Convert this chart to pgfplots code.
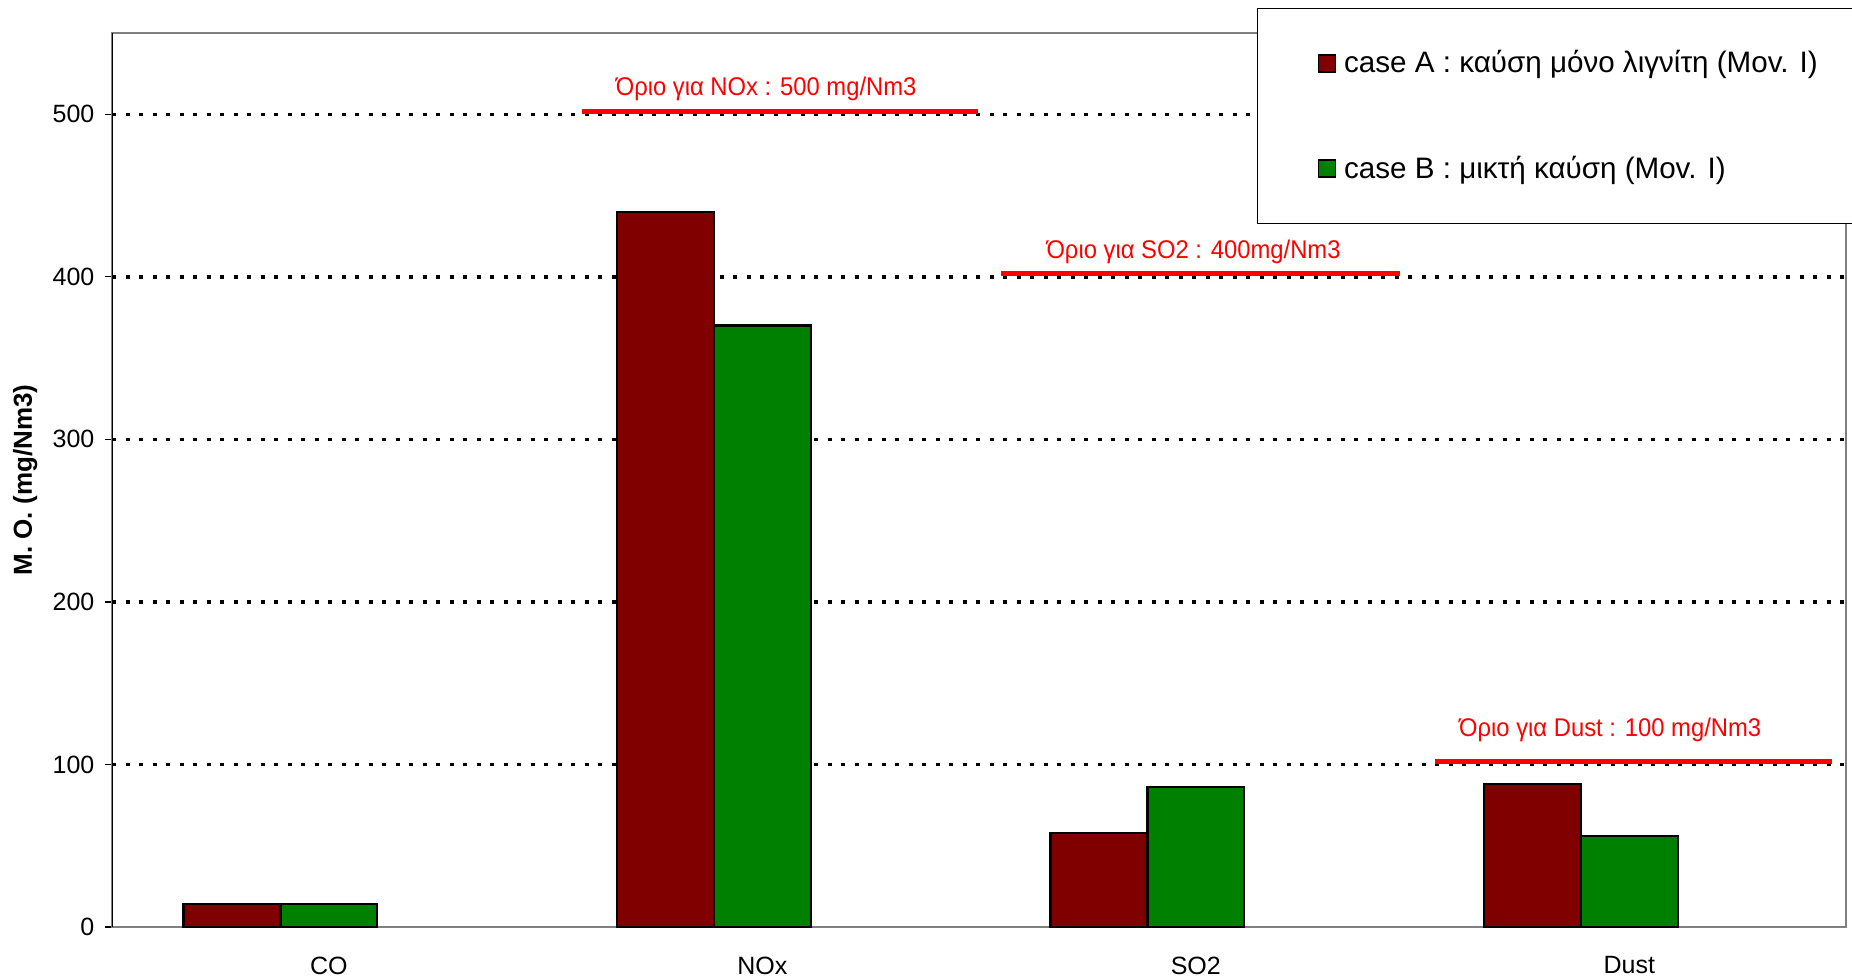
\documentclass[border=0pt]{standalone}
\usepackage{fontspec}
\setmainfont{Liberation Sans}
\usepackage{pgfplots}
\pgfplotsset{compat=1.18}

\definecolor{caseA}{HTML}{800000}
\definecolor{caseB}{HTML}{008000}
\definecolor{frame}{HTML}{808080}

\newcommand{\limitlabel}[1]{\scalebox{0.93}[1]{#1}}

\begin{document}
\begin{tikzpicture}
\begin{axis}[
  at={(0,0)}, anchor=south west,
  scale only axis,
  width=867pt, height=447pt,
  xmin=-0.5, xmax=3.5,
  ymin=0, ymax=550,
  ybar, bar width=0.2235,
  xtick={0,1,2,3},
  xticklabels={CO,NOx,SO2,Dust},
  major x tick style={draw=none},
  extra x ticks={-0.5,0.5,1.5,2.5,3.5},
  extra x tick labels={},
  extra x tick style={major tick length=3.5pt, tick style={black, line width=0.6pt}},
  ytick={0,100,...,500},
  extra y ticks={100,200,300,400,500},
  extra y tick labels={},
  extra y tick style={grid=major, major tick length=0pt},
  major grid style={black, line width=1.7pt, dash pattern=on 2pt off 4.75pt},
  tick align=outside,
  major tick length=3.5pt,
  tick style={black, line width=0.6pt},
  ytick pos=left, xtick pos=bottom,
  axis line style={frame, line width=1pt},
  /pgf/number format/assume math mode=true,
  tick label style={font=\fontsize{12.5}{15}\selectfont},
  xticklabel style={yshift=-7.8pt},
  yticklabel style={xshift=-1.8pt},
  ylabel={M. O. (mg/Nm3)},
  ylabel style={at={(axis description cs:-0.050,0.5)}, anchor=center,
    font=\fontsize{13}{15}\bfseries},
  legend style={at={(0.6603,1.028)}, anchor=north west,
    draw=black, line width=0.6pt, fill=white,
    inner xsep=30pt, inner ysep=21pt, row sep=40pt,
    nodes={inner sep=0pt},
    font=\fontsize{14.8}{18}\selectfont},
  legend cell align=left,
  legend image code/.code={\draw[#1, line width=0.8pt] (0pt,-4.25pt) rectangle (8.5pt,4.25pt);},
]
\addplot[fill=caseA, draw=black, line width=1.2pt, bar shift=-0.2235]
  coordinates {(0,14) (1,440) (2,58) (3,88)};
\addlegendentry{\hspace{4pt}case A : καύση μόνο λιγνίτη (Mov. I)\hspace{70pt}}
\addplot[fill=caseB, draw=black, line width=1.2pt, bar shift=0]
  coordinates {(0,14) (1,370) (2,86) (3,56)};
\addlegendentry{\hspace{4pt}case B : μικτή καύση (Mov. I)}

% emission limits
\addplot[red, line width=2.5pt, forget plot, yshift=1.5pt, sharp plot]
  coordinates {(0.585,500) (1.498,500)};
\addplot[red, line width=2.5pt, forget plot, yshift=1.5pt, sharp plot]
  coordinates {(1.551,400) (2.470,400)};
\addplot[red, line width=2.5pt, forget plot, yshift=1.5pt, sharp plot]
  coordinates {(2.553,100) (3.468,100)};

\node[red, anchor=base, font=\fontsize{12.8}{15}\selectfont]
  at (axis cs:1.009,511.8) {\limitlabel{Όριο για NOx : 500 mg/Nm3}};
\node[red, anchor=base, font=\fontsize{12.8}{15}\selectfont]
  at (axis cs:1.995,411.5) {\limitlabel{Όριο για SO2 : 400mg/Nm3}};
\node[red, anchor=base, font=\fontsize{12.8}{15}\selectfont]
  at (axis cs:2.956,117.5) {\limitlabel{Όριο για Dust : 100 mg/Nm3}};

\draw[black, line width=1pt] (axis cs:-0.5,0) -- (axis cs:-0.5,550);
\end{axis}
\pgfresetboundingbox
\useasboundingbox (-56pt,-24.5pt) rectangle (870pt,463.5pt);
\end{tikzpicture}
\end{document}
